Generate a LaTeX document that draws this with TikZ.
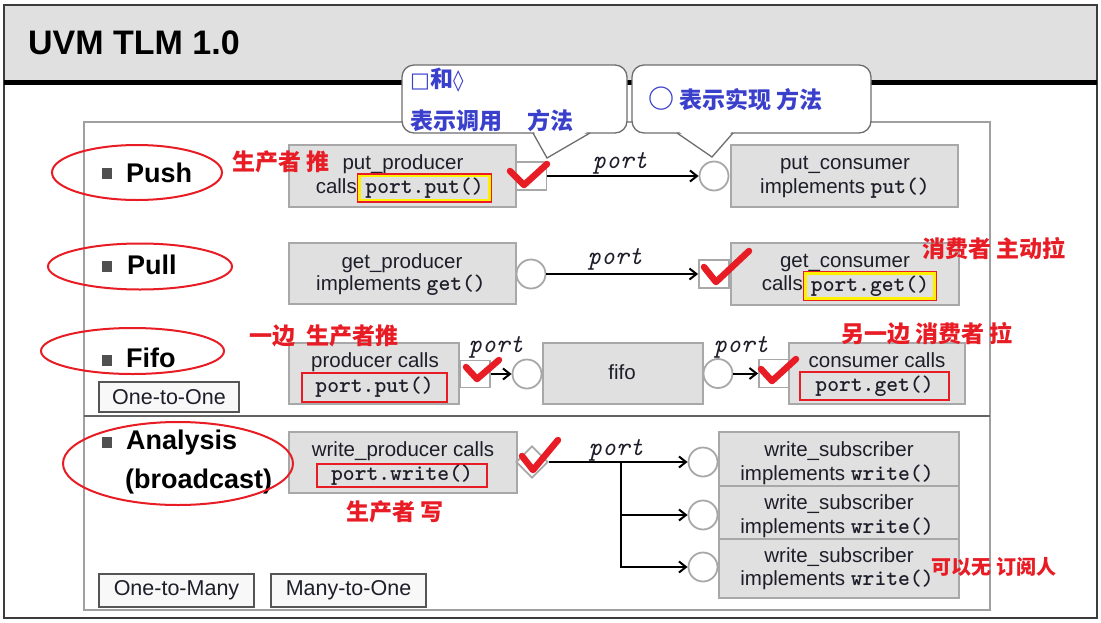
\documentclass[tikz,border=0pt]{standalone}
\usepackage{fontspec}
\setmainfont{Liberation Sans}
\newfontfamily\cjk{Noto Sans CJK SC}
\newfontfamily\djv{DejaVu Sans}
\newfontfamily\cour{lmmonolt10-bold}[Extension=.otf]
\usetikzlibrary{arrows.meta,shapes.geometric}
\definecolor{boxfill}{RGB}{224,224,224}
\definecolor{boxline}{RGB}{168,168,168}
\definecolor{redc}{RGB}{232,28,36}
\definecolor{bluec}{RGB}{58,64,204}
\definecolor{txt}{RGB}{30,30,42}
\definecolor{framec}{RGB}{60,60,60}
\definecolor{innerc}{RGB}{160,160,160}
\definecolor{lblfill}{RGB}{248,248,248}
\definecolor{lblline}{RGB}{85,85,85}
\definecolor{callline}{RGB}{110,110,110}
\definecolor{bulletc}{RGB}{80,80,80}
\definecolor{hdrfill}{RGB}{224,224,224}
\definecolor{yelc}{RGB}{255,240,0}
\newcommand{\setfs}[1]{\fontsize{#1}{#1}\selectfont}
\tikzset{
  box/.style={rectangle, draw=boxline, fill=boxfill, line width=1.8pt, inner sep=0pt},
  prt/.style={rectangle, draw=boxline, fill=white, line width=1.8pt, minimum width=30pt, minimum height=28pt, inner sep=0pt},
  circ/.style={circle, draw=boxline, fill=white, line width=1.8pt, minimum size=29pt, inner sep=0pt},
  dia/.style={diamond, draw=boxline, fill=white, line width=1.8pt, minimum width=32pt, minimum height=32pt, inner sep=0pt},
  btxt/.style={anchor=base, text=txt, font=\setfs{20.5}, inner sep=0pt},
  callrect/.style={rectangle, draw=redc, line width=2.6pt, inner sep=0pt, text=txt, font=\cour\setfs{22.5}},
  yel/.style={draw=yelc, line width=2.2pt},
  arr/.style={line width=2pt, -{Straight Barb[length=7pt,width=11pt,line width=2pt]}},
  portlbl/.style={font=\ttfamily\itshape\setfs{26}, text=txt, inner sep=0pt},
  chk/.style={draw=redc, line width=6.5pt, line cap=round, line join=round},
  redl/.style={draw=redc, line width=2pt},
  rlab/.style={font=\cjk\bfseries\setfs{23}, text=redc, inner sep=0pt},
  blab/.style={font=\cjk\bfseries\setfs{23}, text=bluec, inner sep=0pt, anchor=west},
  head/.style={font=\bfseries\setfs{27}, text=black, anchor=base west, inner sep=0pt},
  lbl/.style={rectangle, draw=lblline, fill=lblfill, line width=2pt, font=\setfs{21.5}, text=txt, inner sep=0pt},
  callout/.style={draw=callline, line width=1.3pt, fill=white},
  bul/.style={fill=bulletc}
}
\begin{document}
\begin{tikzpicture}[x=1pt,y=-1pt]
\useasboundingbox (0,0) rectangle (1101,622);
\fill[white] (0,0) rectangle (1101,622);
% header
\fill[hdrfill] (4,5) rectangle (1097,82);
\draw[line width=2pt, draw=framec] (4,5) rectangle (1097,618);
\draw[line width=5pt] (4,82.5) -- (1097,82.5);
\node[anchor=base west, inner sep=0pt, font=\bfseries\setfs{34}, text=black] (title) at (28,54) {UVM TLM 1.0};
% inner frame
\draw[draw=innerc, line width=1.5pt] (84,122) rectangle (990,610);
\draw[draw=framec!80, line width=1.5pt] (84,416) -- (990,416);

% ===== Push =====
\node[box, minimum width=227pt, minimum height=62pt] (pp) at (402.5,176) {};
\node[btxt] (pp1) at (403,169) {put\_producer};
\node[btxt, anchor=base east] (pp2) at (357,193) {calls};
\node[callrect, minimum width=133pt, minimum height=27pt] (ppc) at (424.5,188) {port.put()};
\draw[yel] ([shift={(2.8,2.8)}]ppc.north west) rectangle ([shift={(-2.8,-2.8)}]ppc.south east);
\node[prt] (sq1) at (531.5,176) {};
\node[circ] (c1) at (714,176) {};
\draw[arr] (sq1.east) -- (c1.west);
\node[portlbl] (pl1) at (620,163) {port};
\node[box, minimum width=227pt, minimum height=62pt] (pc) at (844.5,176) {};
\node[btxt] (pc1) at (845,169) {put\_consumer};
\node[btxt] (pc2) at (845,193) {implements {\cour\setfs{22.5}put()}};

% ===== Pull =====
\node[box, minimum width=227pt, minimum height=61pt] (gp) at (402.5,273.5) {};
\node[btxt] (gp1) at (402,268) {get\_producer};
\node[btxt] (gp2) at (401,290) {implements {\cour\setfs{22.5}get()}};
\node[circ] (c2) at (531,274) {};
\node[prt] (sq2) at (714,274) {};
\draw[arr] (c2.east) -- (sq2.west);
\node[portlbl] (pl2) at (615,259) {port};
\node[box, minimum width=228pt, minimum height=62pt] (gc) at (845,274) {};
\node[btxt] (gc1) at (845,267) {get\_consumer};
\node[btxt, anchor=base east] (gc2) at (803,290) {calls};
\node[callrect, minimum width=132pt, minimum height=28pt] (gcc) at (870,286) {port.get()};
\draw[yel] ([shift={(2.8,2.8)}]gcc.north west) rectangle ([shift={(-2.8,-2.8)}]gcc.south east);

% ===== Fifo =====
\node[box, minimum width=170pt, minimum height=61pt] (fp) at (374,373.5) {};
\node[btxt] (fp1) at (375,367) {producer calls};
\node[callrect, minimum width=145pt, minimum height=29pt] (fpc) at (374.5,387.5) {port.put()};
\node[prt, minimum height=27pt] (sq3) at (475,374) {};
\node[circ] (c3) at (527,374) {};
\draw[arr] (sq3.east) -- (c3.west);
\node[portlbl] (pl3) at (496,347) {port};
\node[box, minimum width=160pt, minimum height=61pt] (ff) at (623,373.5) {};
\node[btxt] (ff1) at (622,379) {fifo};
\node[circ] (c4) at (718,373.5) {};
\node[prt] (sq4) at (774,373.5) {};
\draw[arr] (c4.east) -- (sq4.west);
\node[portlbl] (pl4) at (741,347) {port};
\node[box, minimum width=176pt, minimum height=61pt] (fc) at (877,373.5) {};
\node[btxt] (fc1) at (877,367) {consumer calls};
\node[callrect, minimum width=149pt, minimum height=28pt] (fcc) at (874.5,386) {port.get()};

% ===== Analysis =====
\node[box, minimum width=228pt, minimum height=61pt] (wp) at (403,462.5) {};
\node[btxt] (wp1) at (403,456) {write\_producer calls};
\node[callrect, minimum width=170pt, minimum height=23pt] (wpc) at (402,475.5) {port.write()};
\node[dia] (d1) at (532,462) {};
\coordinate (br) at (621,462);
\node[box, minimum width=240pt, minimum height=54pt] (ws1) at (839,459) {};
\node[box, minimum width=240pt, minimum height=53pt] (ws2) at (839,512.5) {};
\node[box, minimum width=240pt, minimum height=59pt] (ws3) at (839,568.5) {};
\node[btxt] (ws1a) at (839,456) {write\_subscriber};
\node[btxt] (ws1b) at (837,480) {implements {\cour\setfs{22.5}write()}};
\node[btxt] (ws2a) at (839,509) {write\_subscriber};
\node[btxt] (ws2b) at (837,533) {implements {\cour\setfs{22.5}write()}};
\node[btxt] (ws3a) at (839,562) {write\_subscriber};
\node[btxt] (ws3b) at (837,585) {implements {\cour\setfs{22.5}write()}};
\node[circ] (c5) at (703,462) {};
\node[circ] (c6) at (703,515) {};
\node[circ] (c7) at (703,567) {};
\draw[arr] (d1.east) -- (c5.west);
\draw[arr] (br) |- (c6.west);
\draw[arr] (br) |- (c7.west);
\node[portlbl] (pl5) at (616,450) {port};

% ===== left labels =====
\fill[bul] (102,168) rectangle (112,179);
\node[head] (hpush) at (126,182) {Push};
\fill[bul] (102,261) rectangle (112,272);
\node[head] (hpull) at (127,274) {Pull};
\fill[bul] (102,355) rectangle (112,366);
\node[head] (hfifo) at (126,367) {Fifo};
\fill[bul] (102,437) rectangle (112,448);
\node[head] (hana) at (126,449) {Analysis};
\node[head] (hbro) at (125,488) {(broadcast)};

\node[lbl, minimum width=140pt, minimum height=30pt] (l1) at (169,397) {One-to-One};
\node[lbl, minimum width=155pt, minimum height=33pt] (l2) at (176.5,590.5) {One-to-Many};
\node[lbl, minimum width=155pt, minimum height=33pt] (l3) at (348.5,590.5) {Many-to-One};

% ===== red annotations =====
\draw[redl] (137,172.5) ellipse [x radius=85, y radius=27.5];
\draw[redl] (140,266.5) ellipse [x radius=92, y radius=23];
\draw[redl] (132.5,351) ellipse [x radius=91.5, y radius=23];
\draw[redl] (178,463.5) ellipse [x radius=115, y radius=41.5];

\node[rlab] (r1) at (281,162) {生产者 推};
\node[rlab] (r2) at (994,249) {消费者 主动拉};
\node[rlab] (r3) at (324,336) {一边\hspace{12pt}生产者推};
\node[rlab] (r4) at (927,334) {另一边 消费者 拉};
\node[rlab] (r5) at (395,512) {生产者 写};
\node[rlab, font=\cjk\bfseries\setfs{20}] (r6) at (994,567) {可以无 订阅人};

\draw[chk] (510,171) -- (524,185) -- (547,164);
\draw[chk] (704,267) -- (716,282) -- (749,251);
\draw[chk] (466,367) -- (477,379) -- (499,360);
\draw[chk] (761,369) -- (772,381) -- (796,359);
\draw[chk] (522,456) -- (533,470) -- (558,440);

% ===== callouts =====
\draw[callout, rounded corners=12pt] (402,65) rectangle (627,133);
\fill[white] (533,130) -- (547,158) -- (590,130) -- cycle;
\draw[callout, fill=none] (533,133) -- (547,158) -- (590,133);
\node[blab] (b1) at (410,80) {{\djv\setfs{21}□}和{\djv\setfs{21}◊}};
\node[blab] (b2) at (410,121) {表示调用\hspace{25pt}方法};

\draw[callout, rounded corners=12pt] (632,65) rectangle (871,133);
\fill[white] (677,130) -- (712,157) -- (733,130) -- cycle;
\draw[callout, fill=none] (677,133) -- (712,157) -- (733,133);
\node[blab] (b3) at (648,99) {{\setfs{26}○} 表示实现 方法};
\end{tikzpicture}
\end{document}
